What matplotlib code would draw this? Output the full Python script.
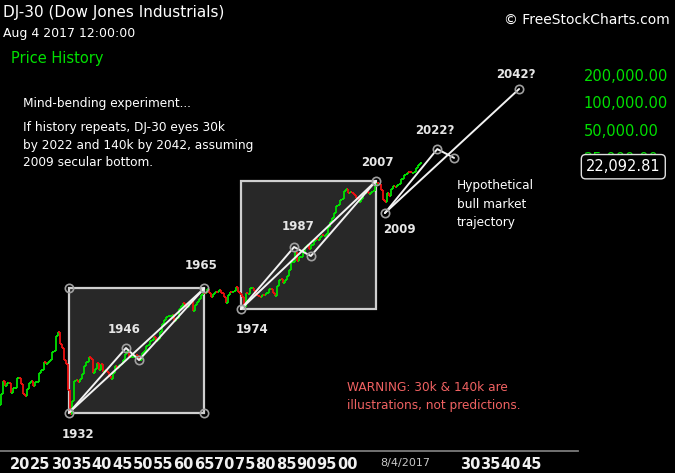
import matplotlib
matplotlib.use('Agg')
import matplotlib.pyplot as plt
from matplotlib.collections import LineCollection
from matplotlib.patches import Rectangle
from matplotlib.ticker import NullLocator, FixedLocator, FixedFormatter

W, H = 675, 473

# ---------------- data ----------------
years = list(range(1915, 2018))
# DJ-30 approximate close at end of June (first half) and end of December (second half)
close_h1 = [72, 88, 95, 82, 107, 91, 68, 93, 88, 96,
            131, 152, 166, 210, 333, 226, 150, 43, 99, 96,
            118, 157, 170, 134, 131, 122, 123, 103, 143, 148,
            165, 206, 177, 189, 168, 209, 242, 274, 268, 333,
            451, 492, 503, 478, 644, 641, 684, 561, 707, 832,
            868, 870, 860, 898, 873, 684, 891, 929, 891, 802,
            879, 1003, 916, 819, 842, 868, 977, 812, 1222, 1132,
            1336, 1893, 2419, 2142, 2440, 2881, 2907, 3319, 3516, 3625,
            4556, 5655, 7673, 8952, 10971, 10448, 10502, 9243, 8985, 10435,
            10275, 11150, 13409, 11350, 8447, 9774, 12414, 12880, 14910, 16827,
            17620, 17930, 21350]
close_h2 = [99, 95, 74, 82, 107, 72, 81, 99, 96, 121,
            157, 157, 202, 300, 248, 165, 78, 60, 100, 104,
            144, 180, 121, 155, 150, 131, 111, 119, 136, 152,
            193, 177, 181, 177, 200, 235, 269, 292, 281, 404,
            488, 500, 436, 584, 679, 616, 731, 652, 763, 874,
            969, 786, 905, 944, 800, 839, 890, 1020, 851, 616,
            852, 1005, 831, 805, 839, 964, 875, 1047, 1259, 1212,
            1547, 1896, 1939, 2169, 2753, 2634, 3169, 3301, 3754, 3834,
            5117, 6448, 7908, 9181, 11497, 10787, 10022, 8342, 10454, 10783,
            10718, 12463, 13265, 8776, 10428, 11578, 12218, 13104, 16577, 17823,
            17425, 19763, 22092.81]
first_open = 55
last_price = 22092.81

# pattern points (A, B, C, D) : year, value
pat1_years = [1932.0, 1945.9, 1949.1, 1965.0]
pat1_vals = [45, 224, 166, 985]
pat2_years = [1974.0, 1987.0, 1991.1, 2007.0]
pat2_vals = [590, 2754, 2204, 14198]
pat3_years = [2009.2, 2022.0, 2026.1, 2042.0]
pat3_vals = [6410, 31400, 25200, 139600]

pat_labels = [("1932", pat1_years[0], pat1_vals[0], 9, -22),
              ("1946", pat1_years[1], pat1_vals[1], -2, 19),
              ("1965", pat1_years[3], pat1_vals[3], -3, 23),
              ("1974", pat2_years[0], pat2_vals[0], 11, -20),
              ("1987", pat2_years[1], pat2_vals[1], 4, 21),
              ("2007", pat2_years[3], pat2_vals[3], 1, 18),
              ("2009", pat3_years[0], pat3_vals[0], 15, -16),
              ("2022?", pat3_years[1], pat3_vals[1], -2, 19),
              ("2042?", pat3_years[3], pat3_vals[3], -3, 14)]

xtick_years = list(range(1920, 2001, 5)) + [2030, 2035, 2040, 2045]
xtick_labels = ["%02d" % (y % 100) for y in xtick_years]
ytick_vals = [25000, 50000, 100000, 200000]
ytick_labels = ["25,000.00", "50,000.00", "100,000.00", "200,000.00"]

GREEN = '#00e000'
RED = '#ee1010'

# ---------------- figure ----------------
fig = plt.figure(figsize=(W / 100, H / 100), dpi=100, facecolor='black')
ax = fig.add_axes([0, 22 / H, 578 / W, 451 / H])
ax.set_facecolor('black')
ax.set_yscale('log')
ax.set_xlim(1915.11, 2056.4)
ax.set_ylim(17.34, 1.2737e6)

for s in ['top', 'left', 'right']:
    ax.spines[s].set_visible(False)
ax.spines['bottom'].set_color('#7a7a7a')
ax.spines['bottom'].set_linewidth(1.3)

# x ticks
ax.xaxis.set_major_locator(FixedLocator(xtick_years))
ax.xaxis.set_major_formatter(FixedFormatter(xtick_labels))
ax.xaxis.set_minor_locator(NullLocator())
ax.tick_params(axis='x', length=0, pad=4, labelsize=10.5, labelcolor='#f0f0f0')
for t in ax.get_xticklabels():
    t.set_fontweight('bold')

# y ticks on right
ax.yaxis.tick_right()
ax.yaxis.set_major_locator(FixedLocator(ytick_vals))
ax.yaxis.set_major_formatter(FixedFormatter(ytick_labels))
ax.yaxis.set_minor_locator(NullLocator())
ax.tick_params(axis='y', length=0, pad=4, labelsize=10.5, labelcolor=GREEN)

# boxes
def add_box(yrs, vals, corners_all):
    x0, x1 = yrs[0], yrs[3]
    v0, v1 = vals[0], vals[3]
    ax.add_patch(Rectangle((x0, v0), x1 - x0, v1 - v0, facecolor='#282828',
                           edgecolor='#cfcfcf', linewidth=1.6, zorder=1))
    if corners_all:
        ax.plot([x0, x1], [v1, v0], 'o', ms=6, mfc='none', mec='#a0a0a0',
                mew=1.2, zorder=6, clip_on=False)

add_box(pat1_years, pat1_vals, True)
add_box(pat2_years, pat2_vals, False)

# OHLC-style half-year bars
segs, cols = [], []
closes = []
pos = []
for i, y in enumerate(years):
    for half, c in ((0.25, close_h1[i]), (0.75, close_h2[i])):
        pos.append(y + half)
        closes.append(c)
opens = [first_open] + closes[:-1]
d = 0.4
for t, o, c in zip(pos, opens, closes):
    col = GREEN if c >= o else RED
    segs.append([(t, o), (t, c)])
    segs.append([(t - d, o), (t, o)])
    segs.append([(t, c), (t + d, c)])
    cols += [col] * 3
ax.add_collection(LineCollection(segs, colors=cols, linewidths=1.3, zorder=3))

# pattern lines
LW = 1.4
LC = '#f2f2f2'
def pline(yrs, vals, idx):
    ax.plot([yrs[i] for i in idx], [vals[i] for i in idx], color=LC, lw=LW,
            zorder=5, solid_capstyle='round')

for yrs, vals in ((pat1_years, pat1_vals), (pat2_years, pat2_vals)):
    pline(yrs, vals, [0, 1, 2, 3])
    pline(yrs, vals, [0, 3])
    ax.plot(yrs, vals, 'o', ms=6, mfc='none', mec='#a0a0a0', mew=1.2, zorder=6)
pline(pat3_years, pat3_vals, [0, 1, 2])
pline(pat3_years, pat3_vals, [0, 3])
ax.plot(pat3_years, pat3_vals, 'o', ms=6, mfc='none', mec='#a0a0a0', mew=1.2, zorder=6)

for txt, xv, yv, dx, dy in pat_labels:
    ax.annotate(txt, xy=(xv, yv), xytext=(dx, dy), textcoords='offset pixels',
                ha='center', va='center', color='#e6e6e6', fontsize=8.5,
                fontweight='bold', zorder=7)

# last price box (partly covers the 25,000.00 label, as in the original)
ax.annotate("22,092.81", xy=(1, last_price), xycoords=('axes fraction', 'data'),
            xytext=(8, -3.5), textcoords='offset pixels', ha='left', va='center',
            color='white', fontsize=10.5, annotation_clip=False, zorder=10,
            bbox=dict(boxstyle='round,pad=0.32,rounding_size=0.3', fc='black',
                      ec='#e0e0e0', lw=1.0))

ax.text(2014.2, -0.015, "8/4/2017", transform=ax.get_xaxis_transform(), ha='center',
        va='top', color='#c8c8c8', fontsize=8, clip_on=False)

# ---------------- header texts ----------------
def ftext(x, y, s, **kw):
    fig.text(x / W, 1 - y / H, s, va='center', **kw)

ftext(3, 12, "DJ-30 (Dow Jones Industrials)", color='white', fontsize=11)
ftext(3, 34, "Aug 4 2017 12:00:00", color='white', fontsize=9)
ftext(11, 58, "Price History", color=GREEN, fontsize=10.5)
ftext(670, 20, "\u00a9 FreeStockCharts.com", color='white', fontsize=10, ha='right')

ftext(23, 103, "Mind-bending experiment...", color='white', fontsize=8.7)
ftext(23, 127, "If history repeats, DJ-30 eyes 30k", color='white', fontsize=8.7)
ftext(23, 145, "by 2022 and 140k by 2042, assuming", color='white', fontsize=8.7)
ftext(23, 163, "2009 secular bottom.", color='white', fontsize=8.7)

ftext(457, 186, "Hypothetical", color='white', fontsize=8.7)
ftext(457, 204, "bull market", color='white', fontsize=8.7)
ftext(457, 222, "trajectory", color='white', fontsize=8.7)

ftext(347, 387, "WARNING: 30k & 140k are", color='#f06262', fontsize=8.7)
ftext(347, 405, "illustrations, not predictions.", color='#f06262', fontsize=8.7)

fig.savefig('out.png', dpi=100, facecolor='black')
